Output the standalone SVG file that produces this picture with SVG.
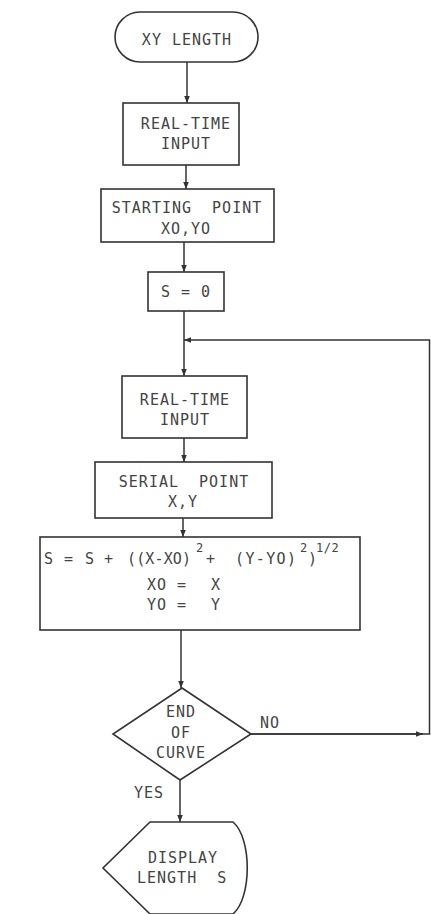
<svg xmlns="http://www.w3.org/2000/svg" width="431" height="914" viewBox="0 0 431 914">
<defs>
<style>
.s{fill:none;stroke:#333;stroke-width:1.6}
.c{fill:none;stroke:#333;stroke-width:1.5}
text{font-family:"DejaVu Sans Mono","Liberation Mono",monospace;font-size:15px;fill:#444;letter-spacing:1px}
.m{text-anchor:middle}
.sup{font-size:12px;letter-spacing:0.5px}
</style>
<marker id="a" viewBox="0 0 10 10" refX="10" refY="5" markerWidth="7" markerHeight="7" orient="auto" markerUnits="userSpaceOnUse">
<path d="M0,1 L10,5 L0,9 Z" fill="#333"/>
</marker>
</defs>
<rect width="431" height="914" fill="#fff"/>
<g id="connectors">
<line class="c" x1="187" y1="62" x2="187" y2="103" marker-end="url(#a)"/>
<line class="c" x1="186" y1="165" x2="186" y2="189" marker-end="url(#a)"/>
<line class="c" x1="184" y1="242" x2="184" y2="272" marker-end="url(#a)"/>
<line class="c" x1="184" y1="311" x2="184" y2="376" marker-end="url(#a)"/>
<polyline class="c" points="251,734 429.5,734 429.5,340 184,340" marker-end="url(#a)"/>
<line class="c" x1="251" y1="734" x2="423" y2="734" marker-end="url(#a)"/>
<line class="c" x1="184" y1="438" x2="184" y2="462" marker-end="url(#a)"/>
<line class="c" x1="183" y1="518" x2="183" y2="537" marker-end="url(#a)"/>
<line class="c" x1="181" y1="630" x2="181" y2="688" marker-end="url(#a)"/>
<line class="c" x1="180" y1="780" x2="180" y2="822" marker-end="url(#a)"/>
<text x="260" y="728">NO</text>
<text x="134" y="798">YES</text>
</g>
<g id="start">
<rect class="s" x="115" y="12" width="143" height="50" rx="25"/>
<text class="m" x="187" y="45">XY LENGTH</text>
</g>
<g id="input1">
<rect class="s" x="123" y="103" width="116" height="62"/>
<text class="m" x="186" y="129">REAL-TIME</text>
<text class="m" x="186" y="149">INPUT</text>
</g>
<g id="startpoint">
<rect class="s" x="101" y="189" width="173" height="53"/>
<text class="m" x="187" y="213" xml:space="preserve">STARTING  POINT</text>
<text class="m" x="186" y="234">XO,YO</text>
</g>
<g id="init">
<rect class="s" x="148" y="272" width="76" height="39"/>
<text class="m" x="186" y="297">S = 0</text>
</g>
<g id="input2">
<rect class="s" x="122" y="376" width="125" height="62"/>
<text class="m" x="185" y="405">REAL-TIME</text>
<text class="m" x="185" y="425">INPUT</text>
</g>
<g id="serialpoint">
<rect class="s" x="95" y="462" width="177" height="56"/>
<text class="m" x="184" y="487" xml:space="preserve">SERIAL  POINT</text>
<text class="m" x="183" y="507">X,Y</text>
</g>
<g id="compute">
<rect class="s" x="40" y="537" width="320" height="93"/>
<text x="44" y="564">S</text>
<text x="64" y="564">=</text>
<text x="85" y="564">S</text>
<text x="104" y="564">+</text>
<text x="127" y="564" textLength="65" lengthAdjust="spacing">((X-XO)</text>
<text class="sup" x="196" y="552">2</text>
<text x="206" y="564">+</text>
<text x="235" y="564" textLength="62" lengthAdjust="spacing">(Y-YO)</text>
<text class="sup" x="300" y="552">2</text>
<text x="308" y="564">)</text>
<text class="sup" x="316" y="552">1/2</text>
<text x="147" y="590">XO</text>
<text x="177" y="590">=</text>
<text x="211" y="590">X</text>
<text x="147" y="610">YO</text>
<text x="177" y="610">=</text>
<text x="211" y="610">Y</text>
</g>
<g id="endcurve">
<polygon class="s" points="182,688 251,734 180,780 113,734"/>
<text class="m" x="181" y="717">END</text>
<text class="m" x="181" y="738">OF</text>
<text class="m" x="181" y="758">CURVE</text>
</g>
<g id="display">
<path class="s" d="M150,822 L233,822 C252,838 252,898 233,914 L150,914 L103,868 Z"/>
<text class="m" x="183" y="863">DISPLAY</text>
<text x="137" y="883" xml:space="preserve">LENGTH  S</text>
</g>
</svg>
